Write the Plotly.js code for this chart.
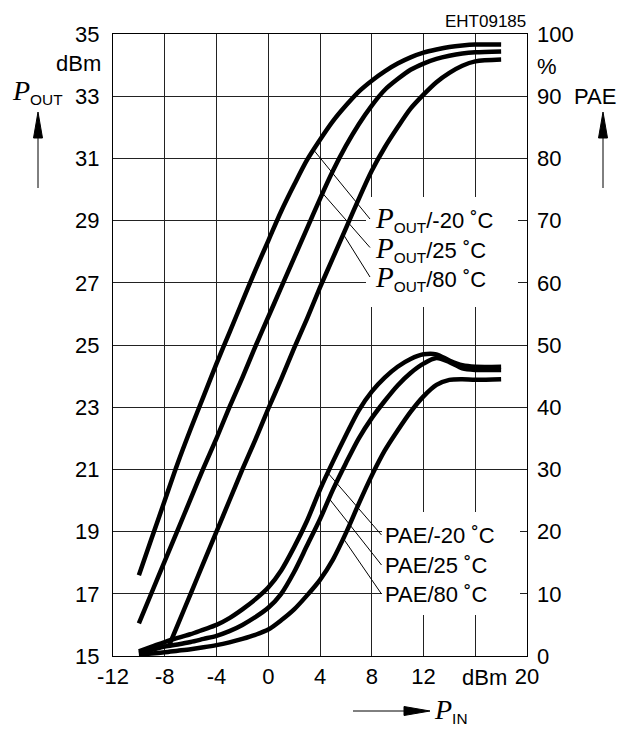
<!DOCTYPE html>
<html>
<head>
<meta charset="utf-8">
<script src="https://cdn.plot.ly/plotly-3.0.1.min.js"></script>
<style>html,body{margin:0;padding:0;background:#fff;}#chart{width:640px;height:729px;}</style>
</head>
<body>
<div id="chart"></div>
<script>
// ---- data ----
const PIN = [-10,-9,-8,-7,-6,-5,-4,-3,-2,-1,0,1,2,3,4,5,6,7,8,9,10,11,12,13,14,15,16,18];
const POUT_M20 = [17.6,18.8,20.0,21.2,22.3,23.35,24.4,25.4,26.4,27.4,28.35,29.3,30.15,30.95,31.6,32.2,32.7,33.15,33.5,33.8,34.05,34.25,34.4,34.5,34.58,34.63,34.66,34.66];
const POUT_25  = [16.05,17.05,18.05,19.05,20.05,21.05,22.0,23.0,23.95,24.95,25.9,26.85,27.8,28.75,29.7,30.6,31.4,32.1,32.7,33.2,33.55,33.85,34.05,34.2,34.3,34.37,34.41,34.44];
const PIN_80   = [-7.7,-7,-6,-5,-4,-3,-2,-1,0,1,2,3,4,5,6,7,8,9,10,11,12,13,14,15,16,18];
const POUT_80  = [15.3,16.0,17.0,18.0,19.0,20.0,21.0,21.95,22.95,23.9,24.9,25.85,26.85,27.8,28.75,29.7,30.6,31.35,32.0,32.6,33.05,33.45,33.75,33.98,34.12,34.18];
const PAE_M20  = [0.75,1.5,2.25,2.9,3.5,4.25,5.0,6.1,7.5,9.1,11.0,13.75,17.5,21.75,26.75,31.25,35.5,39.5,42.5,44.75,46.5,47.75,48.5,48.5,47.5,46.75,46.5,46.5];
const PAE_25   = [0.5,1.0,1.5,1.85,2.25,2.75,3.25,4.0,5.0,6.25,7.75,10.0,13.5,17.75,22.0,26.75,31.0,35.0,38.25,41.0,43.5,45.5,47.0,47.9,47.25,46.25,46.0,46.0];
const PAE_80   = [0.25,0.4,0.6,0.85,1.1,1.4,1.75,2.2,2.75,3.4,4.25,5.75,7.5,9.75,12.25,15.5,19.75,24.5,29.0,33.0,36.25,39.25,41.75,43.6,44.4,44.5,44.4,44.5];

const X_TICKS = [-12,-8,-4,0,4,8,12,16,20];
const X_TICKTEXT = ['-12','-8','-4','0','4','8','12',' ','20'];
const Y_TICKS = [15,17,19,21,23,25,27,29,31,33,35];
const Y2_TICKS = [0,10,20,30,40,50,60,70,80,90,100];

const POUT_LABELS = ['/-20 ˚C','/25 ˚C','/80 ˚C'];
const PAE_LABELS = ['PAE/-20 ˚C','PAE/25 ˚C','PAE/80 ˚C'];

// ---- layout helpers (pixel geometry of the frame) ----
const L=113, R=527, T=34, B=656;
const XMIN=-12, XMAX=20, YMIN=15, YMAX=35;
const pX = px => (px-L)/(R-L);
const pY = py => (B-py)/(B-T);
const dX = px => XMIN + (px-L)/(R-L)*(XMAX-XMIN);
const dY = py => YMAX - (py-T)/(B-T)*(YMAX-YMIN);
const toPae = y => (y-YMIN)*5;
function interp(xs, ys, x){
  for(let i=0;i<xs.length-1;i++){
    if(x>=xs[i] && x<=xs[i+1]){const t=(x-xs[i])/(xs[i+1]-xs[i]);return ys[i]+t*(ys[i+1]-ys[i]);}
  }
  return ys[ys.length-1];
}

const FONT = 'Liberation Sans, Arial, Helvetica, sans-serif';
const FS = 22;
const curve = {color:'#000', width:4.5, shape:'spline', smoothing:0.8};
const thin = {color:'#000', width:1};

const traces = [
  {x:PIN, y:POUT_M20, mode:'lines', line:curve, hoverinfo:'skip'},
  {x:PIN, y:POUT_25, mode:'lines', line:curve, hoverinfo:'skip'},
  {x:PIN_80, y:POUT_80, mode:'lines', line:curve, hoverinfo:'skip'},
  {x:PIN, y:PAE_M20, yaxis:'y2', mode:'lines', line:curve, hoverinfo:'skip'},
  {x:PIN, y:PAE_25, yaxis:'y2', mode:'lines', line:curve, hoverinfo:'skip'},
  {x:PIN, y:PAE_80, yaxis:'y2', mode:'lines', line:curve, hoverinfo:'skip'}
];

// leader lines from curves to labels
const poutSeries = [[PIN,POUT_M20,3.5],[PIN,POUT_25,4.2],[PIN_80,POUT_80,5.8]];
const poutEnds = [219,247.5,277];
poutSeries.forEach((s,i)=>{
  traces.push({x:[s[2], dX(370)], y:[interp(s[0],s[1],s[2]), dY(poutEnds[i])], mode:'lines', line:thin, hoverinfo:'skip'});
});
const paeSeries = [[PIN,PAE_M20,4.6],[PIN,PAE_25,4.7],[PIN,PAE_80,5.8]];
const paeEnds = [535,565,594];
paeSeries.forEach((s,i)=>{
  traces.push({x:[s[2], dX(381.5)], y:[interp(s[0],s[1],s[2]), toPae(dY(paeEnds[i]))], yaxis:'y2', mode:'lines', line:thin, hoverinfo:'skip'});
});

const shapes = [
  // white masks behind label blocks (hide grid)
  {type:'rect', xref:'x', yref:'y', x0:dX(366), x1:dX(518), y0:dY(307), y1:dY(197), fillcolor:'#fff', line:{width:0}, layer:'between'},
  {type:'rect', xref:'x', yref:'y', x0:dX(382), x1:dX(520), y0:dY(615), y1:dY(512), fillcolor:'#fff', line:{width:0}, layer:'between'},
  // left arrow
  {type:'line', xref:'paper', yref:'paper', x0:pX(38), x1:pX(38), y0:pY(188), y1:pY(132), line:{color:'#000', width:1}},
  {type:'path', xref:'paper', yref:'paper', path:`M ${pX(38)},${pY(112)} L ${pX(33.5)},${pY(138)} L ${pX(42.5)},${pY(138)} Z`, fillcolor:'#000', line:{color:'#000', width:1}},
  // right arrow
  {type:'line', xref:'paper', yref:'paper', x0:pX(603), x1:pX(603), y0:pY(188), y1:pY(132), line:{color:'#000', width:1}},
  {type:'path', xref:'paper', yref:'paper', path:`M ${pX(603)},${pY(112)} L ${pX(598.5)},${pY(138)} L ${pX(607.5)},${pY(138)} Z`, fillcolor:'#000', line:{color:'#000', width:1}},
  // bottom arrow
  {type:'line', xref:'paper', yref:'paper', x0:pX(353), x1:pX(410), y0:pY(711), y1:pY(711), line:{color:'#000', width:1}},
  {type:'path', xref:'paper', yref:'paper', path:`M ${pX(430)},${pY(711)} L ${pX(404)},${pY(706.5)} L ${pX(404)},${pY(715.5)} Z`, fillcolor:'#000', line:{color:'#000', width:1}}
];

const Pit = (sz) => `<span style="font-family:Liberation Serif, Times New Roman, serif;font-size:${sz}px"><i>P</i></span>`;
const ann = (o) => Object.assign({showarrow:false, font:{family:FONT, size:FS, color:'#000'}}, o);

const annotations = [
  ann({xref:'paper', yref:'paper', x:pX(528), y:pY(21), xanchor:'right', yanchor:'middle', text:'EHT09185', font:{family:FONT, size:17, color:'#000'}}),
  ann({xref:'paper', yref:'paper', x:pX(103), y:pY(64), xanchor:'right', yanchor:'middle', text:'dBm'}),
  ann({xref:'paper', yref:'paper', x:pX(10), y:pY(92), xanchor:'left', yanchor:'middle', text:Pit(28)+'<sub>OUT</sub>'}),
  ann({xref:'paper', yref:'paper', x:pX(535), y:pY(66), xanchor:'left', yanchor:'middle', text:'%'}),
  ann({xref:'paper', yref:'paper', x:pX(572), y:pY(96), xanchor:'left', yanchor:'middle', text:'PAE'}),
  ann({xref:'paper', yref:'paper', x:pX(484), y:pY(663), xanchor:'center', yanchor:'top', text:'dBm'}),
  ann({xref:'paper', yref:'paper', x:pX(432), y:pY(710), xanchor:'left', yanchor:'middle', text:Pit(28)+'<sub>IN</sub>'})
];
POUT_LABELS.forEach((t,i)=>{
  annotations.push(ann({xref:'x', yref:'y', x:dX(373), y:dY([219,248.5,278][i]), xanchor:'left', yanchor:'middle', text:Pit(29)+'<sub>OUT</sub>'+t}));
});
PAE_LABELS.forEach((t,i)=>{
  annotations.push(ann({xref:'x', yref:'y', x:dX(383), y:dY([535,565,594][i]), xanchor:'left', yanchor:'middle', text:t}));
});

const axisCommon = {ticks:'', zeroline:false, fixedrange:true, tickfont:{family:FONT, size:FS, color:'#000'}};
const layout = {
  width:640, height:729,
  margin:{l:L, r:640-R, t:T, b:729-B, pad:0},
  paper_bgcolor:'#fff', plot_bgcolor:'#fff',
  showlegend:false,
  font:{family:FONT, size:FS, color:'#000'},
  xaxis:Object.assign({}, axisCommon, {range:[XMIN,XMAX], tickmode:'array', tickvals:X_TICKS, ticktext:X_TICKTEXT,
    showgrid:true, gridcolor:'#222', gridwidth:1, showline:true, linecolor:'#000', linewidth:1, mirror:true, ticklabelstandoff:1}),
  yaxis:Object.assign({}, axisCommon, {range:[YMIN,YMAX], tickmode:'array', tickvals:Y_TICKS,
    showgrid:true, gridcolor:'#222', gridwidth:1, showline:true, linecolor:'#000', linewidth:1, mirror:true, ticklabelstandoff:8}),
  yaxis2:Object.assign({}, axisCommon, {range:[0,100], tickmode:'array', tickvals:Y2_TICKS, overlaying:'y', side:'right',
    showgrid:false, showline:false, ticklabelstandoff:9}),
  shapes:shapes,
  annotations:annotations
};

Plotly.newPlot('chart', traces, layout, {staticPlot:true, displayModeBar:false});
</script>
</body>
</html>
